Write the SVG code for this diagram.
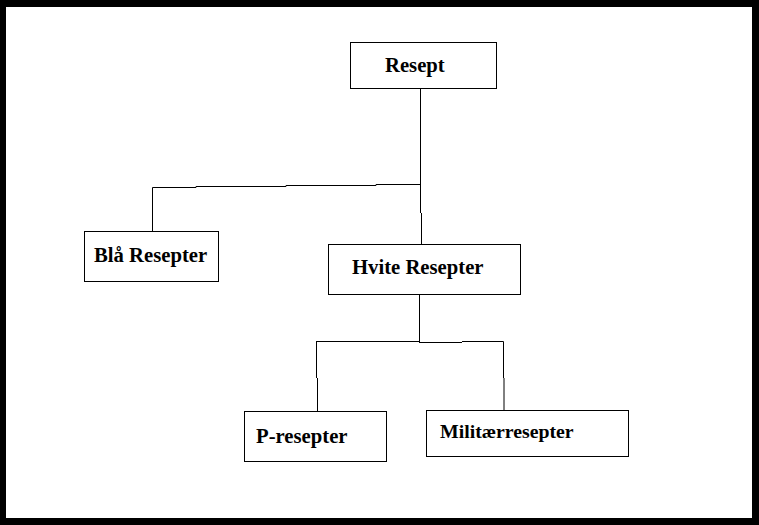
<svg xmlns="http://www.w3.org/2000/svg" width="759" height="525" viewBox="0 0 759 525">
<style>
.box{fill:#fff;stroke:#000;stroke-width:1}
.lbl{font-family:"Liberation Serif","Times New Roman",serif;font-weight:bold;font-size:20.7px;fill:#000}
.ln{fill:none;stroke:#000;stroke-width:1}
</style>
<rect x="0" y="0" width="759" height="525" fill="#000"/>
<rect x="6" y="7" width="746" height="511" fill="#fff"/>
<g id="connectors">
<path class="ln" d="M420.5 88 V213 M421.5 213 V244"/>
<path class="ln" d="M152.5 231 V187.5 H196 V186.5 H286 V185.5 H376 V184.5 H421"/>
<path class="ln" d="M419.5 295 V342"/>
<path class="ln" d="M316.5 341 V378 M317.5 378 V412"/>
<path class="ln" d="M316 341.5 H419 M419 342.5 H462 M462 341.5 H503.5 V378 M504 378 V411"/>
</g>
<g id="node-resept">
<rect class="box" x="350.5" y="42.5" width="146" height="46"/>
<text class="lbl" x="385" y="72">Resept</text>
</g>
<g id="node-bla">
<rect class="box" x="84.5" y="231.5" width="134" height="50"/>
<text class="lbl" x="94" y="262">Blå Resepter</text>
</g>
<g id="node-hvite">
<rect class="box" x="328.5" y="244.5" width="192" height="50"/>
<text class="lbl" x="352" y="273.5">Hvite Resepter</text>
</g>
<g id="node-p">
<rect class="box" x="244.5" y="411.5" width="142" height="50"/>
<text class="lbl" x="256" y="443">P-resepter</text>
</g>
<g id="node-militaer">
<rect class="box" x="426.5" y="410.5" width="202" height="46"/>
<text class="lbl" x="440" y="437.5" style="font-size:19.8px">Militærresepter</text>
</g>
</svg>
